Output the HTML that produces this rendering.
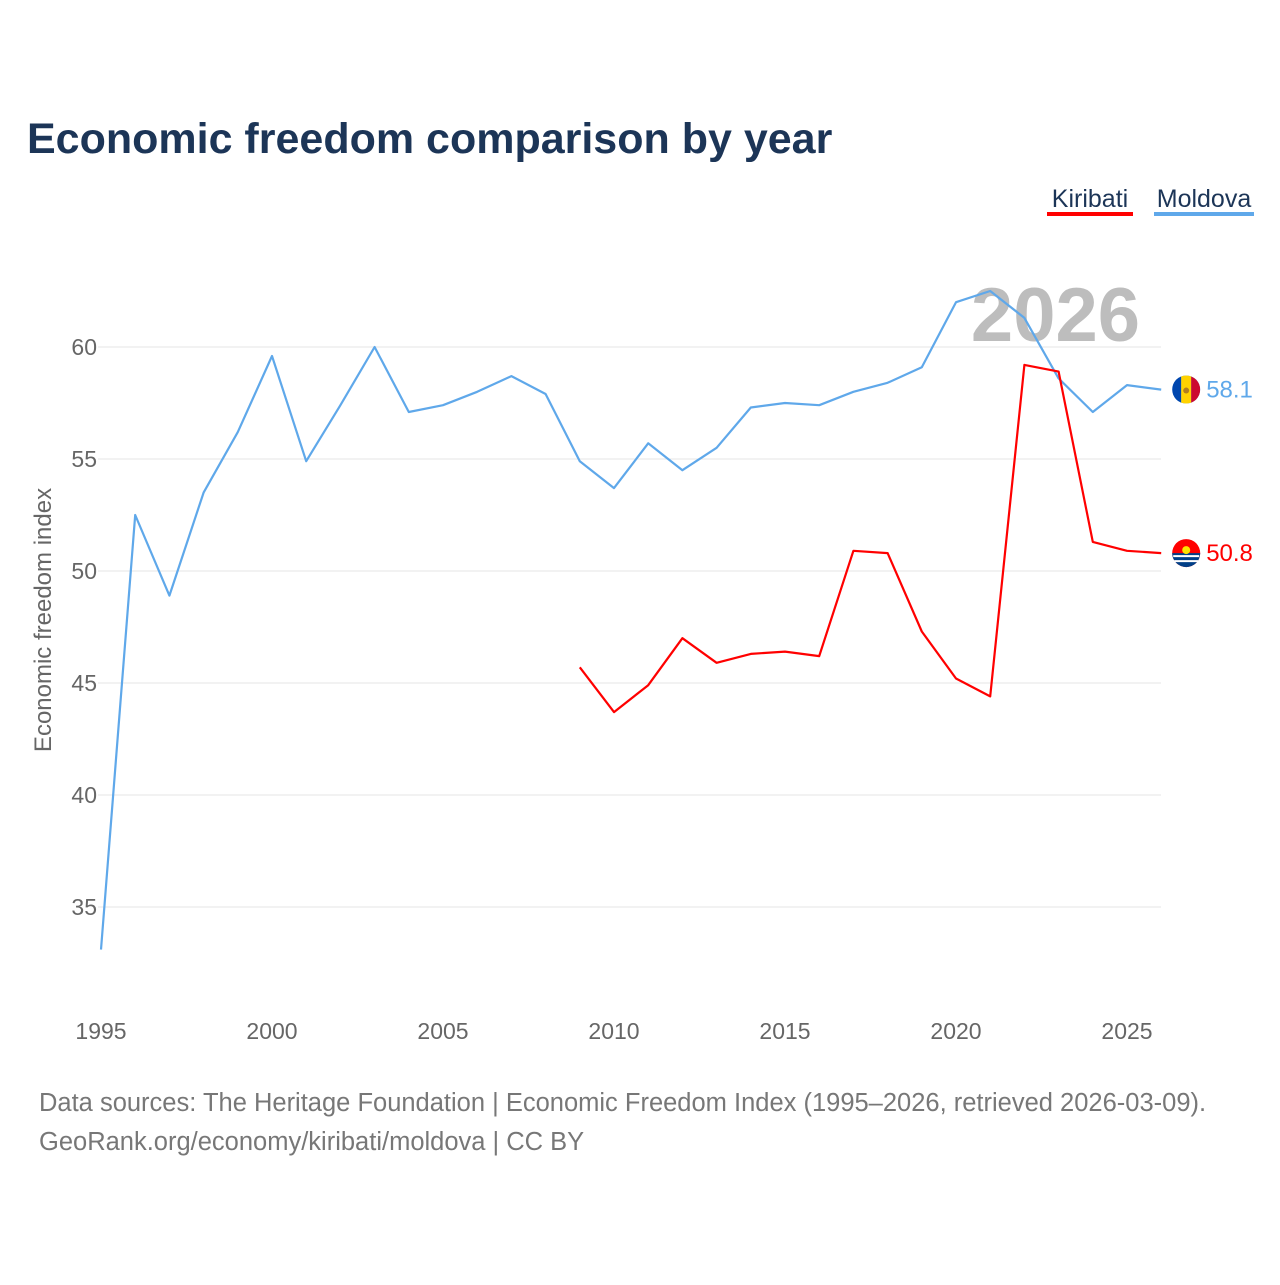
<!DOCTYPE html>
<html><head><meta charset="utf-8">
<style>
body{margin:0;background:#fff;font-family:"Liberation Sans",sans-serif;}
#wrap{position:relative;width:1280px;height:1280px;}
</style></head>
<body>
<div id="wrap">
<svg id="chart" width="1280" height="1280">
<defs><clipPath id="mdclip"><circle id="mdc" cx="0" cy="0" r="14"/></clipPath></defs>
<text x="27" y="153" font-size="43" font-weight="bold" fill="#1c3557">Economic freedom comparison by year</text>
<g>
<text x="1090" y="207" font-size="25" fill="#1c3557" text-anchor="middle">Kiribati</text>
<rect x="1047" y="212" width="86" height="4" fill="#ff0000"/>
<text x="1204" y="207" font-size="25" fill="#1c3557" text-anchor="middle">Moldova</text>
<rect x="1154" y="212" width="100" height="4" fill="#5fa8ea"/>
</g>
<text x="1140" y="341" font-size="76" font-weight="bold" fill="#bdbdbd" text-anchor="end">2026</text>
<g id="grid"></g>
<g id="xticks"></g>
<g id="series"></g>
<text transform="translate(51,620) rotate(-90)" font-size="24" fill="#666" text-anchor="middle">Economic freedom index</text>
<text x="39" y="1111" font-size="25.5" fill="#777">Data sources: The Heritage Foundation | Economic Freedom Index (1995–2026, retrieved 2026-03-09).</text>
<text x="39" y="1150" font-size="25.5" fill="#777">GeoRank.org/economy/kiribati/moldova | CC BY</text>
</svg>
</div>
<script>
const moldovaYears=[1995,1996,1997,1998,1999,2000,2001,2002,2003,2004,2005,2006,2007,2008,2009,2010,2011,2012,2013,2014,2015,2016,2017,2018,2019,2020,2021,2022,2023,2024,2025,2026];
const moldovaValues=[33.1,52.5,48.9,53.5,56.2,59.6,54.9,57.4,60.0,57.1,57.4,58.0,58.7,57.9,54.9,53.7,55.7,54.5,55.5,57.3,57.5,57.4,58.0,58.4,59.1,62.0,62.5,61.3,58.6,57.1,58.3,58.1];
const kiribatiYears=[2009,2010,2011,2012,2013,2014,2015,2016,2017,2018,2019,2020,2021,2022,2023,2024,2025,2026];
const kiribatiValues=[45.7,43.7,44.9,47.0,45.9,46.3,46.4,46.2,50.9,50.8,47.3,45.2,44.4,59.2,58.9,51.3,50.9,50.8];
const yTicks=[35,40,45,50,55,60];
const xTicks=[1995,2000,2005,2010,2015,2020,2025];
const NS="http://www.w3.org/2000/svg";
const xS=y=>101+(y-1995)*34.2;
const yS=v=>347+(60-v)*22.4;
function mk(t,a,p){const e=document.createElementNS(NS,t);for(const k in a)e.setAttribute(k,a[k]);p.appendChild(e);return e;}
const grid=document.getElementById('grid');
yTicks.forEach(v=>{
 const l=mk('line',{x1:98,x2:1161,y1:yS(v),y2:yS(v),stroke:'#e6e6e6','stroke-width':1},grid);
 
 
 const t=mk('text',{x:97,y:yS(v)+8,'font-size':23,fill:'#666','text-anchor':'end'},grid);
 t.textContent=v;
 
 
});
const xg=document.getElementById('xticks');
xTicks.forEach(y=>{
 const t=mk('text',{x:xS(y),y:1039,'font-size':23,fill:'#666','text-anchor':'middle'},xg);
 t.textContent=y;
 
 
});
const sg=document.getElementById('series');
function line(years,vals,color,name){
 const d=years.map((y,i)=>(i?'L':'M')+xS(y).toFixed(1)+','+yS(vals[i]).toFixed(1)).join('');
 const p=mk('path',{d:d,fill:'none',stroke:color,'stroke-width':2.2,'stroke-linejoin':'round'},sg);
 
 
 const ly=years[years.length-1],lv=vals[vals.length-1];
 const cx=xS(ly)+25,cy=yS(lv);
 const c=mk('circle',{cx:cx,cy:cy,r:14,fill:color},sg);
 
 
 const t=mk('text',{x:cx+20,y:cy+8,'font-size':24,fill:color},sg);
 t.textContent=lv.toFixed(1);
 
 
 return [cx,cy];
}
const [mx,my]=line(moldovaYears,moldovaValues,'#5fa8ea','moldova');
const [kx,ky]=line(kiribatiYears,kiribatiValues,'#ff0000','kiribati');
const mdc=document.getElementById('mdc');mdc.setAttribute('cx',mx);mdc.setAttribute('cy',my);
const fg=mk('g',{'clip-path':'url(#mdclip)'},sg);


let r=mk('rect',{x:mx-14,y:my-14,width:9,height:28,fill:'#0046ae'},fg);
r=mk('rect',{x:mx-5,y:my-14,width:10,height:28,fill:'#ffd200'},fg);
r=mk('rect',{x:mx+5,y:my-14,width:9,height:28,fill:'#cc092f'},fg);
r=mk('circle',{cx:mx,cy:my+1,r:3,fill:'#b07e1f'},sg);
r=mk('path',{d:`M${kx-14},${ky} A14,14 0 0,0 ${kx+14},${ky} Z`,fill:'#003f87'},sg);
r=mk('path',{d:`M${kx-13},${ky+3}h26M${kx-12},${ky+8}h24`,stroke:'#fff','stroke-width':2},sg);
r=mk('circle',{cx:kx,cy:ky-3,r:4,fill:'#fce300'},sg);
</script>
</body></html>
